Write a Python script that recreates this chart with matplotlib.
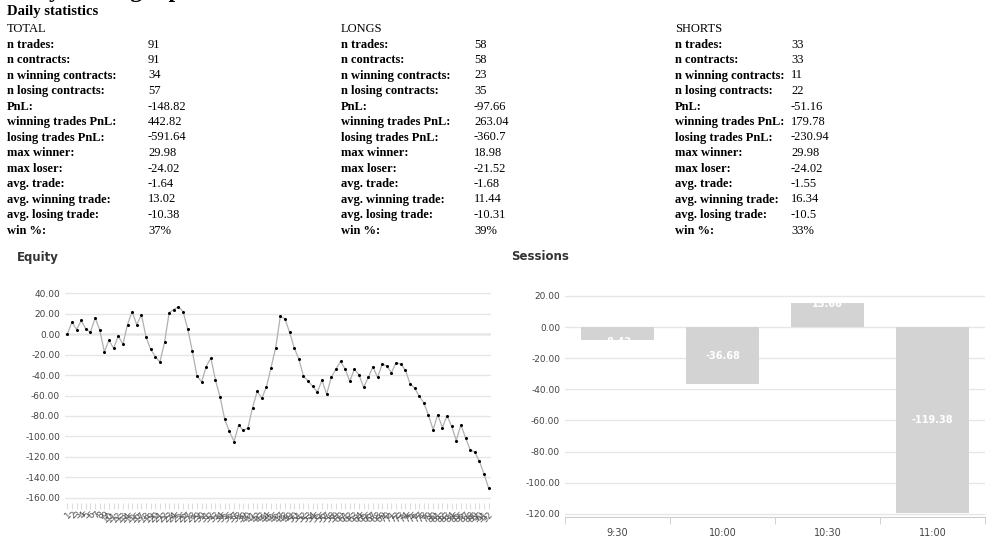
import numpy as np
import matplotlib.pyplot as plt

equity = [0, 11.7, 4.3, 13.3, 5, 1.7, 16, 4, -17.3, -6, -14, -1.7, -10, 9.3, 22, 9, 19, -2.7,
          -15, -22, -27.3, -8, 21, 24, 26.7, 22, 5, -16.7, -41, -46.7, -31.7, -23.3, -45, -61.7,
          -83.3, -95, -105, -89, -94, -91.7, -72, -56, -62.7, -51.7, -32.7, -13.3,
          17.3, 15, 1.7, -13.3, -24.3, -41, -46, -51, -56.7, -45, -58.7, -42.3, -34.3, -26.7,
          -34.3, -46, -34.3, -40, -52, -42.3, -32, -42.3, -29.3, -31.3, -37.7, -28, -29.3, -35,
          -48.3, -52.7, -60.7, -67.3, -79.3, -93.3, -78.7, -91.3, -79.7, -90, -104, -88.7,
          -101.3, -113, -115.3, -124.3, -136.7, -150.7]
sessions = ["9:30", "10:00", "10:30", "11:00"]
session_pnl = [-8.42, -36.68, 15.66, -119.38]

stat_names = ["n trades:", "n contracts:", "n winning contracts:", "n losing contracts:", "PnL:",
              "winning trades PnL:", "losing trades PnL:", "max winner:", "max loser:",
              "avg. trade:", "avg. winning trade:", "avg. losing trade:", "win %:"]
groups = ["TOTAL", "LONGS", "SHORTS"]
stat_values = [
    ["91", "91", "34", "57", "-148.82", "442.82", "-591.64", "29.98", "-24.02", "-1.64", "13.02", "-10.38", "37%"],
    ["58", "58", "23", "35", "-97.66", "263.04", "-360.7", "18.98", "-21.52", "-1.68", "11.44", "-10.31", "39%"],
    ["33", "33", "11", "22", "-51.16", "179.78", "-230.94", "29.98", "-24.02", "-1.55", "16.34", "-10.5", "33%"],
]

W, H = 999, 552
fig = plt.figure(figsize=(W / 100, H / 100), dpi=100)
serif = "Liberation Serif"

fig.text(7 / W, 1 + 8 / H, "Daily trading report", fontsize=17, fontweight="bold",
         family=serif, va="center")
fig.text(7 / W, 1 - 12 / H, "Daily statistics", fontsize=10.5, fontweight="bold",
         family=serif, va="center")
col_x = [7, 341, 675]
val_x = [148, 474, 791]
for g in range(3):
    fig.text(col_x[g] / W, 1 - 29 / H, groups[g], fontsize=9, family=serif, va="center")
    for r, name in enumerate(stat_names):
        y = 1 - (44.5 + r * 15.5) / H
        fig.text(col_x[g] / W, y, name, fontsize=9, fontweight="bold", family=serif, va="center")
        fig.text(val_x[g] / W, y, stat_values[g][r], fontsize=9, family=serif, va="center")

fig.text(17 / W, 1 - 257 / H, "Equity", fontsize=8.5, fontweight="bold", va="center", color="#333333")
fig.text(511 / W, 1 - 257 / H, "Sessions", fontsize=8.5, fontweight="bold", va="center", color="#333333")

# equity
ax = fig.add_axes([65 / W, 1 - 503 / H, 426 / W, 215 / H])
x = np.arange(1, len(equity) + 1)
ax.plot(x, equity, color="#b0b0b0", lw=0.9, marker="o", markersize=1.2,
        markerfacecolor="black", markeredgecolor="black")
ax.axhline(0, color="#888888", lw=0.9, zorder=0)
ax.set_ylim(-165, 45)
ax.set_yticks(np.arange(-160, 41, 20))
ax.set_yticklabels([f"{v:.2f}" for v in np.arange(-160, 41, 20)], fontsize=6.5, color="#444444")
ax.set_xlim(0.5, len(equity) + 0.5)
ax.set_xticks(x)
ax.set_xticklabels([str(i) for i in x], rotation=45, fontsize=6.5, color="#555555", ha="right",
                   rotation_mode="anchor")
ax.grid(axis="y", color="#e6e6e6", lw=1)
ax.set_axisbelow(True)
for s in ax.spines.values():
    s.set_visible(False)
ax.tick_params(axis="y", length=0)
ax.tick_params(axis="x", length=4, color="#dddddd", pad=1)

# sessions
ax2 = fig.add_axes([565 / W, 1 - 517 / H, 420 / W, 232 / H])
pos = np.arange(len(sessions))
ax2.bar(pos, session_pnl, width=0.7, color="#d3d3d3")
for p, v in zip(pos, session_pnl):
    ax2.text(p, v / 2 if abs(v) > 30 else v - 1, f"{v:.2f}",
             ha="center", va="center", color="white", fontsize=7, fontweight="bold")
ax2.set_ylim(-122, 27)
ax2.set_yticks(np.arange(-120, 21, 20))
ax2.set_yticklabels([f"{v:.2f}" for v in np.arange(-120, 21, 20)], fontsize=6.5, color="#444444")
ax2.set_xlim(-0.5, len(sessions) - 0.5)
ax2.set_xticks(pos)
ax2.set_xticklabels(sessions, fontsize=7, color="#444444")
ax2.set_xticks(np.arange(-0.5, len(sessions), 1), minor=True)
ax2.tick_params(axis="x", which="major", length=0, pad=8)
ax2.tick_params(axis="x", which="minor", length=5, color="#cccccc")
ax2.tick_params(axis="y", length=0)
ax2.grid(axis="y", color="#e6e6e6", lw=1)
ax2.set_axisbelow(True)
for k, s in ax2.spines.items():
    s.set_visible(k == "bottom")
ax2.spines["bottom"].set_color("#cccccc")

fig.savefig("out.png", dpi=100)
